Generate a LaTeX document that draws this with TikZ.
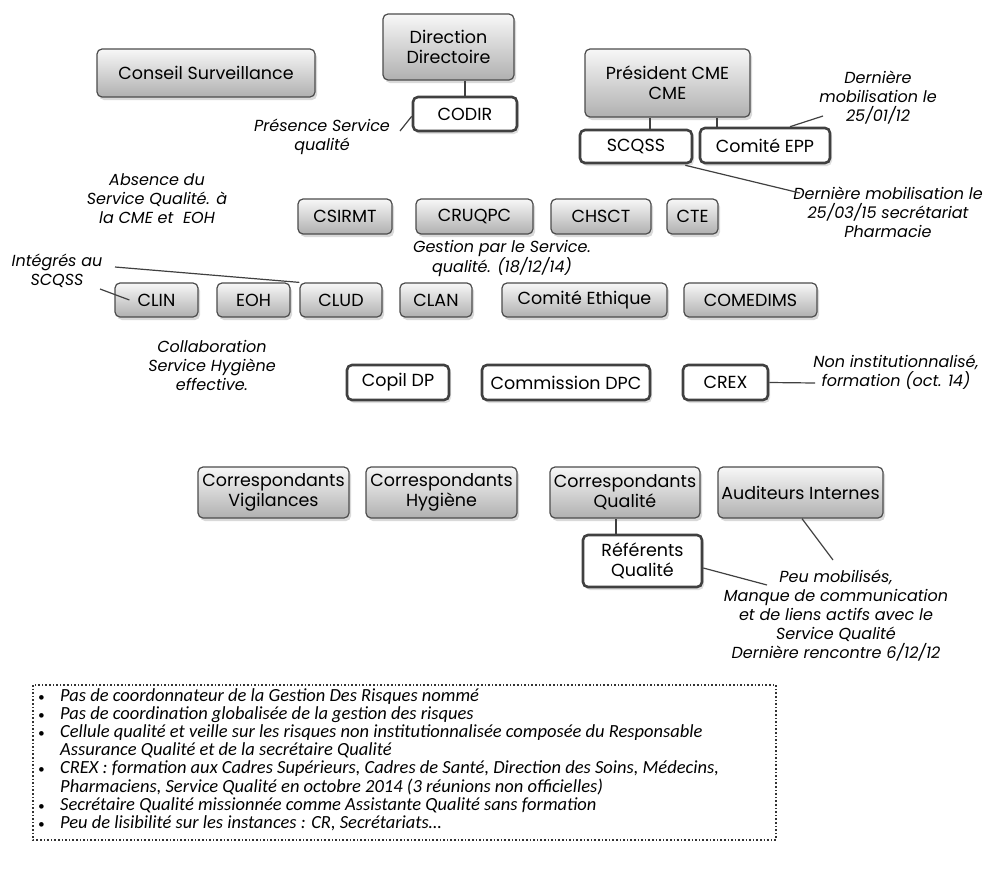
\documentclass[tikz,border=0pt]{standalone}
\usepackage{fontspec}
\newfontfamily\boxfont{Poppins}
\newfontfamily\botfont{Carlito}
\usetikzlibrary{shadows,calc}
\tikzset{
  gbox/.style={rounded corners=5pt, draw=black!70, line width=1.2pt,
    top color=gray!6, bottom color=gray!62, drop shadow={opacity=0.3, shadow xshift=2pt, shadow yshift=-3pt},
    font=\boxfont\fontsize{17.5}{20}\selectfont, align=center, inner sep=0pt},
  wbox/.style={rounded corners=5pt, draw=black!75, line width=2.6pt, fill=white,
    drop shadow={opacity=0.25, shadow xshift=2pt, shadow yshift=-3pt},
    font=\boxfont\fontsize{17.5}{20}\selectfont, align=center, inner sep=0pt},
  note/.style={font=\boxfont\itshape\fontsize{16}{19}\selectfont, align=center, inner sep=0pt},
  link/.style={draw=black!75, line width=1.2pt}
}
\newcommand{\bul}{\makebox[22pt][l]{\fontsize{13}{13}\selectfont\textbullet}}
\begin{document}
\begin{tikzpicture}[x=1pt,y=-1pt]
\useasboundingbox (0,0) rectangle (996,886);
% top
\node[gbox, minimum width=218, minimum height=48] (cs) at (206,73) {Conseil Surveillance};
\node[gbox, minimum width=131, minimum height=66] (dir) at (448.5,47) {Direction\\Directoire};
\node[wbox, minimum width=104, minimum height=34] (codir) at (465,114) {CODIR};
\node[gbox, minimum width=165, minimum height=68] (pcme) at (667.5,83) {Président CME\\CME};
\node[wbox, minimum width=112, minimum height=33] (scqss) at (636,146.5) {SCQSS};
\node[wbox, minimum width=130, minimum height=35] (epp) at (765,145.5) {Comité EPP};
% row 1
\node[gbox, minimum width=94, minimum height=35] (csirmt) at (345,216.5) {CSIRMT};
\node[gbox, minimum width=117, minimum height=35] (cruqpc) at (474.5,216.5) {CRUQPC};
\node[gbox, minimum width=100, minimum height=35] (chsct) at (601,216.5) {CHSCT};
\node[gbox, minimum width=51, minimum height=35] (cte) at (692.5,216.5) {CTE};
% row 2
\node[gbox, minimum width=83, minimum height=34] (clin) at (156.5,300) {CLIN};
\node[gbox, minimum width=73, minimum height=34] (eoh) at (253.5,300) {EOH};
\node[gbox, minimum width=82, minimum height=34] (clud) at (341,300) {CLUD};
\node[gbox, minimum width=72, minimum height=34] (clan) at (436,300) {CLAN};
\node[gbox, minimum width=165, minimum height=34] (ceth) at (584.5,300) {Comité Ethique};
\node[gbox, minimum width=133, minimum height=34] (comedims) at (750.5,300) {COMEDIMS};
% row 3
\node[wbox, minimum width=102, minimum height=35] (copil) at (398,382.5) {Copil DP};
\node[wbox, minimum width=168, minimum height=35] (dpc) at (566,382.5) {Commission DPC};
\node[wbox, minimum width=85, minimum height=35] (crex) at (725.5,382.5) {CREX};
% row 4
\node[gbox, minimum width=151, minimum height=51] (cv) at (273.5,492.5) {Correspondants\\Vigilances};
\node[gbox, minimum width=151, minimum height=51] (ch) at (441.5,492.5) {Correspondants\\Hygiène};
\node[gbox, minimum width=150, minimum height=51] (cq) at (625,492.5) {Correspondants\\Qualité};
\node[gbox, minimum width=165, minimum height=51] (ai) at (800.5,492.5) {Auditeurs Internes};
\node[wbox, minimum width=119, minimum height=52] (ref) at (642.5,561) {Référents\\Qualité};
% notes
\node[note] (n1) at (322,136.5) {Présence Service\\qualité};
\node[note] (n2) at (878,98) {Dernière\\mobilisation le\\25/01/12};
\node[note] (n3) at (888,212) {Dernière mobilisation le\\25/03/15 secrétariat\\Pharmacie};
\node[note] (n4) at (157,199) {Absence du\\Service Qualité. à\\la CME et~ EOH};
\node[note] (n5) at (502,258.5) {Gestion par le Service.\\qualité. (18/12/14)};
\node[note] (n6) at (57,271) {Intégrés au\\SCQSS};
\node[note] (n7) at (212,365) {Collaboration\\Service Hygiène\\effective.};
\node[note] (n8) at (896,372) {Non institutionnalisé,\\formation (oct. 14)};
\node[note] (n9) at (836,616) {Peu mobilisés,\\Manque de communication\\et de liens actifs avec le\\Service Qualité\\Dernière rencontre 6/12/12};
% note anchors
\coordinate (a1) at (400,131);
\coordinate (a2) at (823,116);
\coordinate (a3) at (800,193);
\coordinate (a6a) at (100,289);
\coordinate (a6b) at (115,267);
\coordinate (a8) at (815,383);
\coordinate (a9a) at (767,585);
\coordinate (a9b) at (833,560);
% hierarchy connectors
\draw[link] (codir.north) -- (codir.north |- dir.south);
\draw[link] (scqss.north -| 650,0) -- (pcme.south -| 650,0);
\draw[link] (epp.north -| 717,0) -- (pcme.south -| 717,0);
\draw[link] (ref.north -| 616,0) -- (cq.south -| 616,0);
% annotation connectors
\draw[link] ($(codir.south west)+(0,-16)$) -- (a1);
\draw[link] (epp.north -| 790,0) -- (a2);
\draw[link] ($(scqss.south east)+(-8,1)$) -- (a3);
\draw[link] (a6a) -- ($(clin.west)+(15,0)$);
\draw[link] (a6b) -- (clud.north west);
\draw[link] (crex.east) -- (a8);
\draw[link] ($(ref.east)+(0,7)$) -- (a9a);
\draw[link] (ai.south -| 802,0) -- (a9b);
% bottom box
\draw[black!80, line width=1.6pt, dotted] (33,685) rectangle (776,840);
\node[anchor=north west, inner sep=0pt, align=left, font=\botfont\itshape\fontsize{18.5}{18.2}\selectfont] (txt) at (38,688) {%
\bul Pas de coordonnateur de la Gestion Des Risques nommé\\
\bul Pas de coordination globalisée de la gestion des risques\\
\bul Cellule qualité et veille sur les risques non institutionnalisée composée du Responsable\\
\hspace*{22pt}Assurance Qualité et de la secrétaire Qualité\\
\bul CREX : formation aux Cadres Supérieurs, Cadres de Santé, Direction des Soins, Médecins,\\
\hspace*{22pt}Pharmaciens, Service Qualité en octobre 2014 (3 réunions non officielles)\\
\bul Secrétaire Qualité missionnée comme Assistante Qualité sans formation\\
\bul Peu de lisibilité sur les instances : CR, Secrétariats…};
\end{tikzpicture}
\end{document}
